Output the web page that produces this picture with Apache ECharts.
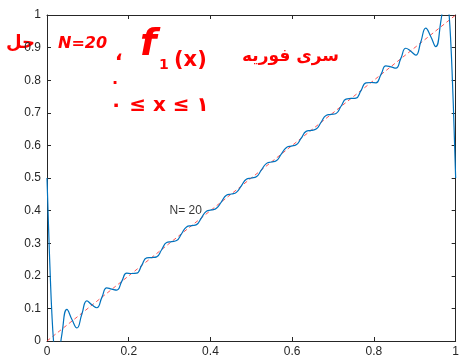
<!DOCTYPE html>
<html>
<head>
<meta charset="utf-8">
<script src="https://cdn.jsdelivr.net/npm/echarts@6/dist/echarts.min.js"></script>
<style>
html, body { margin: 0; padding: 0; background: #fff; }
#chart { width: 462px; height: 361px; }
</style>
</head>
<body>
<div id="chart"></div>
<script>
// x ticks / y ticks
var xTicks = ['0', '0.2', '0.4', '0.6', '0.8', '1'];
var yTicks = ['0', '0.1', '0.2', '0.3', '0.4', '0.5', '0.6', '0.7', '0.8', '0.9', '1'];

// partial Fourier sum (N = 20)
var sumX = [0, 0.004, 0.008, 0.012, 0.016, 0.020, 0.0244, 0.029, 0.0366, 0.0488,
	0.0610, 0.0732, 0.0854, 0.0976, 0.1098, 0.1220, 0.1341, 0.1463, 0.1585, 0.1707,
	0.1829, 0.1951, 0.2073, 0.2195, 0.2317, 0.2439, 0.2561, 0.2683, 0.2805, 0.2927,
	0.3049, 0.3171, 0.3293, 0.3415, 0.3537, 0.3659, 0.3780, 0.3902, 0.4024, 0.4146,
	0.4268, 0.4390, 0.4512, 0.4634, 0.4756, 0.4878, 0.5000, 0.5122, 0.5244, 0.5366,
	0.5488, 0.5610, 0.5732, 0.5854, 0.5976, 0.6098, 0.6220, 0.6341, 0.6463, 0.6585,
	0.6707, 0.6829, 0.6951, 0.7073, 0.7195, 0.7317, 0.7439, 0.7561, 0.7683, 0.7805,
	0.7927, 0.8049, 0.8171, 0.8293, 0.8415, 0.8537, 0.8659, 0.8780, 0.8902, 0.9024,
	0.9146, 0.9268, 0.9390, 0.9512, 0.9634, 0.971, 0.9756, 0.980, 0.984, 0.988,
	0.992, 0.996, 1.0];
var sumY = [0.500, 0.342, 0.199, 0.082, -0.001, -0.053, -0.065, -0.047, 0.022, 0.097,
	0.066, 0.040, 0.083, 0.123, 0.111, 0.102, 0.133, 0.163, 0.159, 0.156,
	0.183, 0.208, 0.207, 0.208, 0.232, 0.255, 0.256, 0.258, 0.280, 0.302,
	0.305, 0.308, 0.329, 0.350, 0.354, 0.357, 0.378, 0.398, 0.402, 0.407,
	0.427, 0.447, 0.451, 0.456, 0.476, 0.496, 0.500, 0.504, 0.524, 0.544,
	0.549, 0.553, 0.573, 0.593, 0.598, 0.602, 0.622, 0.643, 0.646, 0.650,
	0.671, 0.692, 0.695, 0.698, 0.720, 0.742, 0.744, 0.745, 0.768, 0.792,
	0.793, 0.792, 0.817, 0.844, 0.841, 0.837, 0.867, 0.898, 0.889, 0.877,
	0.917, 0.960, 0.934, 0.903, 0.978, 1.047, 1.065, 1.053, 1.001, 0.918,
	0.801, 0.658, 0.500];

// f(x) = x
var lineX = [0, 1];
var lineY = [0, 1];

var labelPos = [0.3, 0.4];
var labelText = 'N= 20';

function pairs(a, b) {
	var out = [];
	for (var i = 0; i < a.length; i++) {
		out.push([a[i], b[i]]);
	}
	return out;
}

var chart = echarts.init(document.getElementById('chart'), null, { renderer: 'canvas' });
var font = 'Liberation Sans, Arial, sans-serif';
var axisCol = '#262626';
var red = '#ff0000';

var baseAxis = {
	type: 'value',
	min: 0,
	max: 1,
	axisLine: { show: true, onZero: false, lineStyle: { color: axisCol, width: 1 } },
	axisTick: { show: true, inside: true, length: 4, lineStyle: { color: axisCol } },
	splitLine: { show: false },
	axisLabel: { show: false }
};

var option = {
	animation: false,
	backgroundColor: '#fff',
	grid: { left: 47, right: 2, top: 15, bottom: 20 },
	xAxis: [
		Object.assign({}, baseAxis, {
			position: 'bottom',
			interval: 0.2,
			axisLabel: {
				show: true, color: axisCol, fontSize: 12, fontFamily: font, margin: 5,
				formatter: function(v) { return xTicks[Math.round(v * 5)]; }
			}
		}),
		Object.assign({}, baseAxis, { position: 'top', interval: 0.2 })
	],
	yAxis: [
		Object.assign({}, baseAxis, {
			position: 'left',
			interval: 0.1,
			axisLabel: {
				show: true, color: axisCol, fontSize: 12, fontFamily: font, margin: 6,
				formatter: function(v) { return yTicks[Math.round(v * 10)]; }
			}
		}),
		Object.assign({}, baseAxis, { position: 'right', interval: 0.1 })
	],
	series: [{
		type: 'line',
		data: pairs(lineX, lineY),
		showSymbol: false,
		lineStyle: { color: 'rgba(255,40,40,0.8)', width: 1, type: [4, 3] },
		z: 2
	}, {
		type: 'line',
		data: pairs(sumX, sumY),
		showSymbol: false,
		smooth: 0.5,
		clip: true,
		lineStyle: { color: '#0072BD', width: 1.2 },
		z: 3
	}, {
		type: 'scatter',
		data: [labelPos],
		symbolSize: 0,
		silent: true,
		label: {
			show: true, position: 'right', distance: 0,
			formatter: labelText, color: '#000', fontSize: 12, fontFamily: font
		},
		z: 4
	}],
	graphic: [
		{ type: 'text', left: 6, top: 34, style: { text: 'حل', fill: red, font: 'bold 18px "Noto Sans", "DejaVu Sans", sans-serif' } },
		{ type: 'text', left: 58, top: 36, style: { text: 'N=20', fill: red, font: 'italic bold 16px "DejaVu Sans", sans-serif' } },
		{ type: 'text', left: 115, top: 44, style: { text: '،', fill: red, font: 'bold 20px "Noto Sans", "DejaVu Sans", sans-serif' } },
		{ type: 'text', left: 140, top: 26, style: { text: 'f', fill: red, font: 'italic bold 38px "DejaVu Sans", sans-serif' } },
		{ type: 'text', left: 159, top: 58, style: { text: '1', fill: red, font: 'bold 14px "DejaVu Sans", sans-serif' } },
		{ type: 'text', left: 174, top: 50, style: { text: '(x)', fill: red, font: 'bold 21px "DejaVu Sans", sans-serif' } },
		{ type: 'text', left: 112, top: 72, style: { text: '.', fill: red, font: 'bold 16px "DejaVu Sans", sans-serif' } },
		{ type: 'text', left: 110, top: 96, style: { text: '۰ ≤ x ≤ ۱', fill: red, font: 'bold 20px "DejaVu Sans", sans-serif' } },
		{ type: 'text', left: 242, top: 48, style: { text: 'سری فوریه', fill: red, font: 'bold 17px "DejaVu Sans", sans-serif' } }
	]
};

chart.setOption(option);
</script>
</body>
</html>
